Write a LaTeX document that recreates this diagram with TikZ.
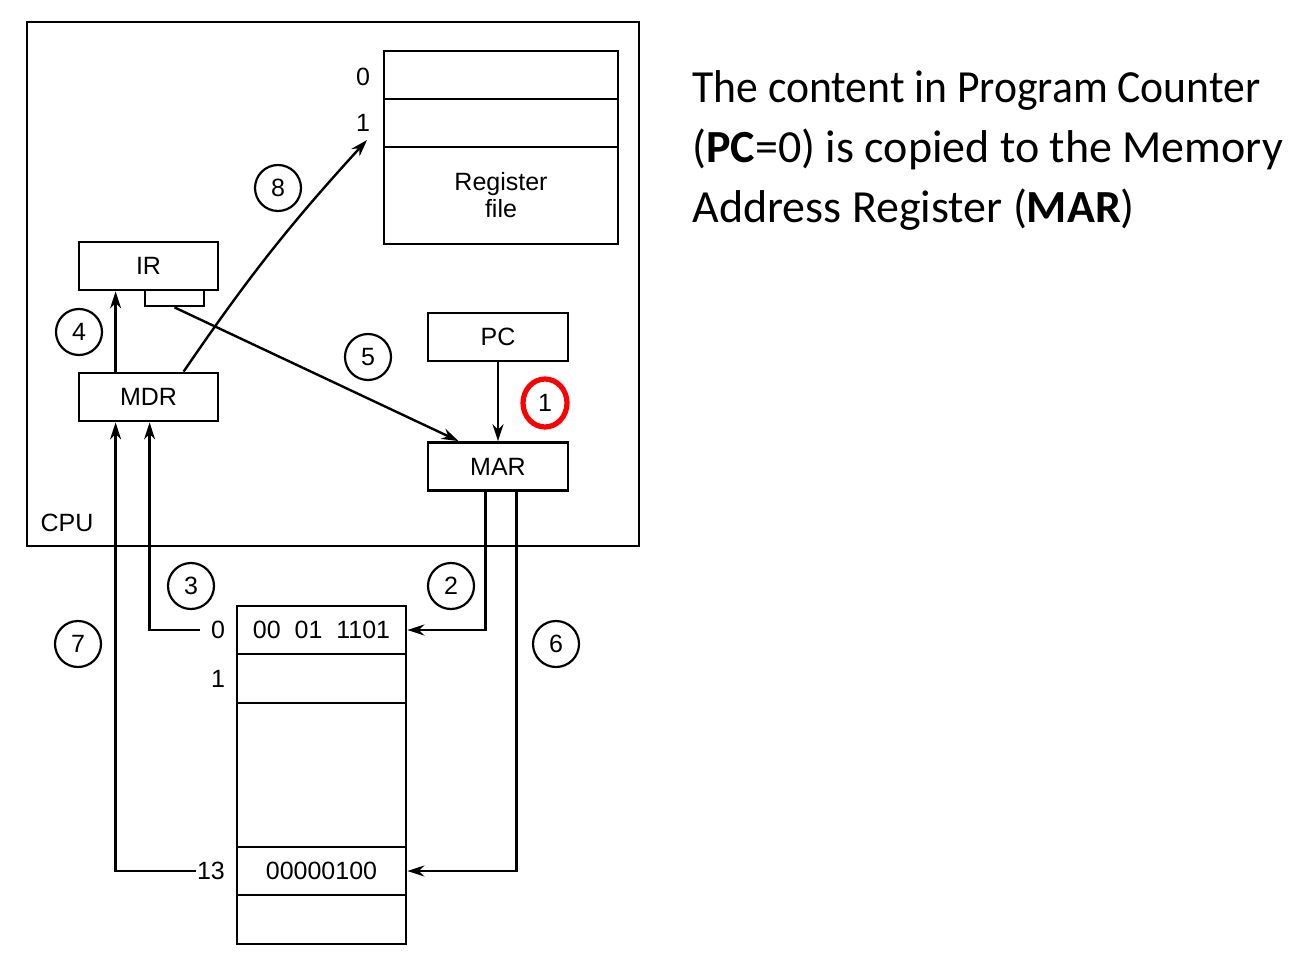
\documentclass[tikz,border=0pt]{standalone}
\usepackage{fontspec}
\setmainfont{Liberation Sans}
\newfontfamily\rtfont{Carlito}
\usetikzlibrary{arrows.meta,shapes.geometric,calc}
\begin{document}
\begin{tikzpicture}[x=0.5pt,y=-0.5pt,
  every node/.style={font=\fontsize{12.5}{14}\selectfont},
  box/.style={draw,line width=1.4pt,inner sep=0pt,rectangle},
  reg/.style={box,minimum width=70pt,minimum height=24pt},
  cell/.style={box,minimum width=84.5pt},
  numc/.style={draw,circle,line width=1.1pt,minimum size=23pt,inner sep=0pt},
  arr/.style={line width=1.2pt,-{Stealth[length=8.5pt,width=5.5pt]}},
  lbl/.style={inner sep=1pt},
  rtext/.style={anchor=base west,inner sep=0pt,font=\rtfont\fontsize{23}{28}\selectfont}]
\useasboundingbox (0,0) rectangle (1309,967);
% CPU
\node[box,minimum width=306pt,minimum height=262pt] (cpu) at (333,284) {};
\node[lbl] (cpulbl) at (67,523) {CPU};
% register file
\node[box,minimum width=117pt,minimum height=24pt] (rf0) at (501,75) {};
\node[box,minimum width=117pt,minimum height=24pt] (rf1) at (501,123) {};
\node[box,minimum width=117pt,minimum height=48.5pt,align=center] (rf) at (501,195.5) {Register\\[-0.5pt]file};
\node[lbl] (r0) at (363,77) {0};
\node[lbl] (r1) at (363,123) {1};
\coordinate (r1in) at (367,140);
% registers
\node[reg,minimum width=69.5pt] (ir) at (148.5,266) {IR};
\node[box,minimum width=29.5pt,minimum height=8pt] (tab) at (174.5,298) {};
\node[reg,minimum width=69.5pt] (mdr) at (148.5,397) {MDR};
\node[reg] (pc) at (498,337) {PC};
\node[reg] (mar) at (498,466.5) {MAR};
% memory
\node[cell,minimum height=24pt] (m0) at (321.5,630) {00\ \ 01\ \ 1101};
\node[cell,minimum height=24.5pt] (m1) at (321.5,678.5) {};
\node[cell,minimum height=72pt] (mgap) at (321.5,775) {};
\node[cell,minimum height=24pt] (m13) at (321.5,871) {00000100};
\node[cell,minimum height=24.5pt] (mlast) at (321.5,919.5) {};
\node[lbl,inner xsep=5.5pt] (a0) at (218,630) {0};
\node[lbl] (a1) at (218,679) {1};
\node[lbl,inner sep=0.5pt] (a13) at (211,871) {13};
% step circles
\node[numc] (c8) at (278,188) {8};
\node[numc] (c4) at (79,332) {4};
\node[numc] (c5) at (368,357) {5};
\node[draw=red,ellipse,line width=2.6pt,minimum width=22pt,minimum height=24pt,inner sep=0pt] (c1) at (545,403) {1};
\node[numc] (c3) at (191,586) {3};
\node[numc] (c2) at (451,586) {2};
\node[numc] (c7) at (78,644) {7};
\node[numc] (c6) at (556,644) {6};
% connectors
\draw[arr] (pc.south) -- (mar.north);
\draw[arr] ([xshift=19pt]mdr.north west) -- ([xshift=19pt]ir.south west);
\draw[arr] ([xshift=53pt]mdr.north west) to[bend left=4] (r1in);
\draw[arr] (tab.south) -- ([xshift=16pt]mar.north west);
\draw[arr] ([xshift=29.5pt]mar.south west) |- (m0.east);
\draw[arr] ([xshift=45pt]mar.south west) |- (m13.east);
\draw[arr] (a0.west) -| ([xshift=36pt]mdr.south west);
\draw[arr] (a13.west) -| ([xshift=19pt]mdr.south west);
% text
\node[rtext] (t1) at (692,103) {\scalebox{0.948}[1]{The content in Program Counter}};
\node[rtext] (t2) at (692,163) {(\textbf{PC}=0) is copied to the Memory};
\node[rtext] (t3) at (692,223) {Address Register (\textbf{MAR})};
\end{tikzpicture}
\end{document}
